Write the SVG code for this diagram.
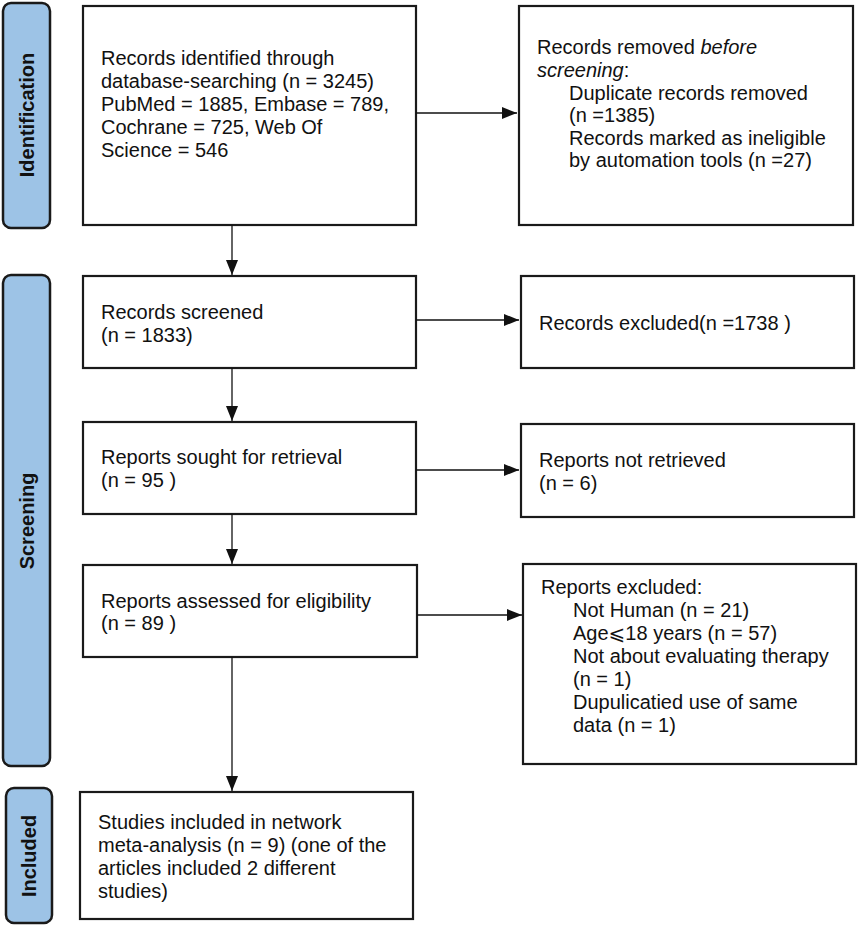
<svg xmlns="http://www.w3.org/2000/svg" width="858" height="926" viewBox="0 0 858 926">
<style>
.box{fill:#fff;stroke:#1a1a1a;stroke-width:2.2}
.lab{fill:#9dc3e6;stroke:#1a1a1a;stroke-width:2.5}
.t{font-family:"Liberation Sans",Arial,"DejaVu Sans",sans-serif;font-size:20px;fill:#111}
.lt{font-family:"Liberation Sans",Arial,sans-serif;font-size:20px;font-weight:bold;fill:#111;text-anchor:middle}
.c{stroke:#111;stroke-width:1.3;fill:none;marker-end:url(#ah)}
</style>
<defs>
<marker id="ah" markerWidth="15" markerHeight="12" refX="15" refY="6" orient="auto" markerUnits="userSpaceOnUse">
<path d="M0,0 L15,6 L0,12 Z" fill="#111"/>
</marker>
</defs>
<rect width="858" height="926" fill="#fff"/>

<g id="label-identification">
<rect class="lab" x="3" y="3" width="47" height="225" rx="8"/>
<text class="lt" transform="translate(34,115) rotate(-90)">Identification</text>
</g>
<g id="label-screening">
<rect class="lab" x="3" y="275" width="47" height="491" rx="8"/>
<text class="lt" transform="translate(34,521) rotate(-90)">Screening</text>
</g>
<g id="label-included">
<rect class="lab" x="6" y="788" width="46" height="135" rx="8"/>
<text class="lt" transform="translate(36,856) rotate(-90)">Included</text>
</g>

<g id="n-identified">
<rect class="box" x="83" y="6" width="333" height="219"/>
<text class="t" x="101" y="65">Records identified through</text>
<text class="t" x="101" y="88">database-searching (n = 3245)</text>
<text class="t" x="101" y="111">PubMed = 1885, Embase = 789,</text>
<text class="t" x="101" y="134">Cochrane = 725, Web Of</text>
<text class="t" x="101" y="157">Science = 546</text>
</g>
<g id="n-removed">
<rect class="box" x="519" y="6" width="334" height="219"/>
<text class="t" x="537" y="54">Records removed <tspan font-style="italic">before</tspan></text>
<text class="t" x="537" y="77"><tspan font-style="italic">screening</tspan>:</text>
<text class="t" x="569" y="100">Duplicate records removed</text>
<text class="t" x="569" y="122">(n =1385)</text>
<text class="t" x="569" y="145">Records marked as ineligible</text>
<text class="t" x="569" y="167">by automation tools (n =27)</text>
</g>
<g id="n-screened">
<rect class="box" x="83" y="276" width="333" height="92"/>
<text class="t" x="101" y="319">Records screened</text>
<text class="t" x="101" y="342">(n = 1833)</text>
</g>
<g id="n-excluded">
<rect class="box" x="521" y="276" width="333" height="92"/>
<text class="t" x="539" y="330">Records excluded(n =1738 )</text>
</g>
<g id="n-sought">
<rect class="box" x="83" y="422" width="333" height="92"/>
<text class="t" x="101" y="464">Reports sought for retrieval</text>
<text class="t" x="101" y="487">(n = 95 )</text>
</g>
<g id="n-notretrieved">
<rect class="box" x="521" y="424" width="333" height="93"/>
<text class="t" x="539" y="467">Reports not retrieved</text>
<text class="t" x="539" y="490">(n = 6)</text>
</g>
<g id="n-assessed">
<rect class="box" x="83" y="565" width="334" height="92"/>
<text class="t" x="101" y="608">Reports assessed for eligibility</text>
<text class="t" x="101" y="630">(n = 89 )</text>
</g>
<g id="n-reportsexcluded">
<rect class="box" x="523" y="564" width="333" height="200"/>
<text class="t" x="541" y="594">Reports excluded:</text>
<text class="t" x="573" y="617">Not Human (n = 21)</text>
<text class="t" x="573" y="640">Age⩽18 years (n = 57)</text>
<text class="t" x="573" y="663">Not about evaluating therapy</text>
<text class="t" x="573" y="686">(n = 1)</text>
<text class="t" x="573" y="709">Dupulicatied use of same</text>
<text class="t" x="573" y="732">data (n = 1)</text>
</g>
<g id="n-included">
<rect class="box" x="80" y="792" width="333" height="127"/>
<text class="t" x="98" y="829">Studies included in network</text>
<text class="t" x="98" y="852">meta-analysis (n = 9) (one of the</text>
<text class="t" x="98" y="875">articles included 2 different</text>
<text class="t" x="98" y="898">studies)</text>
</g>

<g id="connectors">
<path class="c" d="M416,113 H517"/>
<path class="c" d="M232,225 V275"/>
<path class="c" d="M416,320 H519"/>
<path class="c" d="M232,368 V421"/>
<path class="c" d="M416,470 H519"/>
<path class="c" d="M232,514 V564"/>
<path class="c" d="M417,615 H522"/>
<path class="c" d="M232,657 V791"/>
</g>
</svg>
